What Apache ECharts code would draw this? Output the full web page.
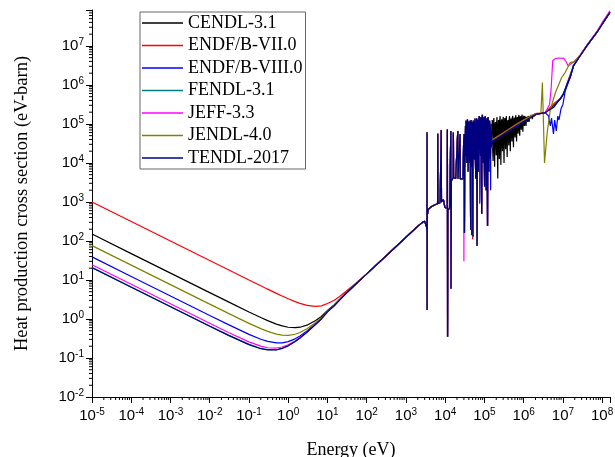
<!DOCTYPE html>
<html><head><meta charset="utf-8">
<script src="https://cdn.jsdelivr.net/npm/echarts@6/dist/echarts.min.js"></script>
<style>html,body{margin:0;padding:0;background:#fff}#c{width:615px;height:457px}</style>
</head><body><div id="c"></div>
<script>
// ---- data (Energy in eV, heat production cross section in eV-barn) ----
const names = ['CENDL-3.1', 'ENDF/B-VII.0', 'ENDF/B-VIII.0', 'FENDL-3.1', 'JEFF-3.3', 'JENDL-4.0', 'TENDL-2017'];
const colors = ['#000000', '#ff0000', '#0000ff', '#008080', '#ff00ff', '#808000', '#000080'];
const xTicks = [-5, -4, -3, -2, -1, 0, 1, 2, 3, 4, 5, 6, 7, 8];   // exponents of 10
const yTicks = [-2, -1, 0, 1, 2, 3, 4, 5, 6, 7];

const lowE = [1e-5, 1e-4, 1e-3, 1e-2, 0.03, 0.1, 0.2, 0.3, 0.5, 0.7, 1, 1.5, 2, 3, 5, 7, 10, 15, 20, 30, 50];
const cendlLow = [150, 47.4, 15, 4.74, 2.74, 1.51, 1.09, 0.907, 0.74, 0.665, 0.614, 0.597, 0.615, 0.694, 0.912, 1.16, 1.65, 2.32, 3.11, 4.64, 7.47];
const endf7Low = [1000, 316, 100, 31.6, 18.3, 10.0, 7.1, 5.81, 4.54, 3.88, 3.3, 2.79, 2.51, 2.24, 2.11, 2.17, 2.5, 3.02, 3.71, 5.13, 7.85];
const endf8Low = [39, 12.3, 3.89, 1.23, 0.715, 0.403, 0.303, 0.266, 0.244, 0.245, 0.263, 0.31, 0.367, 0.491, 0.755, 1.03, 1.54, 2.23, 3.03, 4.57, 7.42];
const fendlLow = [21, 6.6, 2.09, 0.66, 0.385, 0.223, 0.175, 0.163, 0.163, 0.177, 0.206, 0.264, 0.327, 0.46, 0.73, 1.0, 1.52, 2.22, 3.01, 4.56, 7.41];
const jeffLow = [24.5, 7.75, 2.45, 0.775, 0.452, 0.259, 0.201, 0.183, 0.18, 0.191, 0.218, 0.273, 0.335, 0.465, 0.735, 1.01, 1.52, 2.22, 3.02, 4.56, 7.41];
const jendlLow = [76, 24, 7.6, 2.4, 1.39, 0.773, 0.565, 0.48, 0.409, 0.385, 0.38, 0.406, 0.45, 0.559, 0.807, 1.07, 1.58, 2.26, 3.05, 4.59, 7.43];
const tendlLow = [20.6, 6.5, 2.06, 0.65, 0.38, 0.22, 0.173, 0.161, 0.162, 0.176, 0.205, 0.263, 0.326, 0.458, 0.73, 1.0, 1.52, 2.22, 3.01, 4.56, 7.41];

const riseE = [100, 300, 1000];
const riseSigma = [14.3, 40, 124];

// resolved-resonance region, common to all libraries [E, sigma]
const resonance = [
  [2000, 238], [2600, 295], [3000, 320], [3200, 300], [3350, 230], [3430, 180], [3450, 6.0e4], [3470, 1.7],
  [3500, 450], [3720, 650], [4500, 760], [5500, 850], [6400, 900], [6460, 5.6e4], [6550, 910], [7400, 950],
  [7900, 980], [7950, 7.0e4], [8050, 1000], [9000, 1150], [9900, 720], [1.13e4, 680], [1.14e4, 7.2e4],
  [1.15e4, 0.35], [1.17e4, 620], [1.3e4, 700], [1.39e4, 6.6e4], [1.41e4, 6.0], [1.44e4, 3500], [1.6e4, 4200],
  [1.62e4, 6.0e4], [1.64e4, 4150], [1.85e4, 4000], [2.09e4, 6.6e4], [2.12e4, 3950], [2.38e4, 3900],
  [2.4e4, 5.5e4], [2.43e4, 3900], [2.85e4, 3900], [2.95e4, 3.5e4], [3.05e4, 5.5e4], [3.1e4, 160],
  [3.15e4, 2.0e4], [3.2e4, 8000], [3.3e4, 9.0e4], [3.35e4, 1.5e4], [3.4e4, 1.2e5], [3.5e4, 3.0e4], [3.55e4, 1.0e4],
  [3.62e4, 9.0e4], [3.7e4, 1.3e5], [3.78e4, 2.0e4], [3.85e4, 6000], [3.92e4, 8.0e4], [4.0e4, 1.15e5],
  [4.1e4, 3.0e4], [4.2e4, 1.0e4], [4.28e4, 9.0e4], [4.35e4, 1.2e5], [4.45e4, 195], [4.52e4, 7.0e4],
  [4.6e4, 1.25e5], [4.7e4, 2.5e4], [4.8e4, 8000], [4.88e4, 9.0e4], [4.95e4, 1.1e5], [5.05e4, 130],
  [5.12e4, 6.0e4], [5.2e4, 1.2e5], [5.35e4, 3.0e4], [5.5e4, 1.2e4], [5.6e4, 1.0e5], [5.7e4, 1.35e5],
  [5.85e4, 2.0e4], [6.0e4, 4000], [6.15e4, 1.1e5], [6.3e4, 1.4e5], [6.5e4, 75], [6.65e4, 8.0e4],
  [6.8e4, 1.3e5], [6.95e4, 2.5e4], [7.1e4, 6000], [7.25e4, 1.2e5], [7.4e4, 1.6e5], [7.6e4, 3.0e4],
  [7.8e4, 1.5e4], [7.95e4, 1.2e5], [8.1e4, 1.5e5], [8.3e4, 2.0e4], [8.5e4, 500], [8.7e4, 1.3e5],
  [8.9e4, 1.7e5], [9.1e4, 3.0e4], [9.3e4, 1.0e4], [9.5e4, 1.2e5], [9.7e4, 1.5e5], [9.9e4, 2.0e4],
  [1.01e5, 2500], [1.035e5, 1.3e5], [1.06e5, 1.6e5], [1.085e5, 1.5e4], [1.11e5, 2000], [1.135e5, 1.1e5],
  [1.16e5, 1.4e5], [1.18e5, 1.0e4], [1.2e5, 240], [1.22e5, 1.2e5], [1.25e5, 1.5e5], [1.28e5, 2.0e4],
  [1.3e5, 6000], [1.33e5, 1.0e5], [1.35e5, 1.2e5], [1.38e5, 3.0e4], [1.42e5, 1.2e4], [1.45e5, 8.0e4],
  [1.48e5, 1.0e5], [1.55e5, 2.5e4]
];
// library-specific departures inside the resonance region
const endf7ResExtra = [[5.0e4, 110], [4.7e4, 300]];
const endf8ResExtra = [[4.7e4, 140], [1.44e5, 2000], [7.6e4, 900]];
const jeffResExtra = [[3.0e4, 30], [9500, 800]];

// fast region per library [E, sigma]
const cendlFast = [
  [1.58e5, 1.26e5], [1.62e5, 2.5e4], [1.66e5, 1.12e4], [1.70e5, 1.2e5], [1.74e5, 1.41e5], [1.78e5, 3.0e4],
  [1.82e5, 7.94e3], [1.86e5, 9.0e4], [1.91e5, 1.12e5], [1.95e5, 4.0e4], [2.0e5, 1.58e4], [2.05e5, 1.1e5],
  [2.09e5, 1.51e5], [2.14e5, 2.0e4], [2.19e5, 3.98e3], [2.24e5, 9.0e4], [2.29e5, 1.26e5], [2.35e5, 3.5e4],
  [2.40e5, 1.26e4], [2.45e5, 1.2e5], [2.51e5, 1.58e5], [2.57e5, 3.0e4], [2.63e5, 8.91e3], [2.69e5, 1.1e5],
  [2.75e5, 1.32e5], [2.82e5, 4.0e4], [2.88e5, 2.0e4], [2.95e5, 1.2e5], [3.02e5, 1.51e5], [3.09e5, 3.0e4],
  [3.16e5, 1.0e4], [3.24e5, 1.1e5], [3.31e5, 1.41e5], [3.39e5, 5.0e4], [3.47e5, 2.24e4], [3.55e5, 1.3e5],
  [3.63e5, 1.58e5], [3.72e5, 4.0e4], [3.80e5, 1.41e4], [3.89e5, 1.1e5], [3.98e5, 1.26e5], [4.07e5, 6.0e4],
  [4.17e5, 2.82e4], [4.27e5, 1.3e5], [4.37e5, 1.58e5], [4.47e5, 5.0e4], [4.57e5, 2.0e4], [4.68e5, 1.2e5],
  [4.79e5, 1.38e5], [4.9e5, 6.0e4], [5.01e5, 3.55e4], [5.13e5, 1.4e5], [5.25e5, 1.62e5], [5.37e5, 5.0e4],
  [5.50e5, 2.51e4], [5.62e5, 1.2e5], [5.75e5, 1.45e5], [5.89e5, 7.0e4], [6.03e5, 4.47e4], [6.17e5, 1.4e5],
  [6.31e5, 1.66e5], [6.46e5, 6.0e4], [6.61e5, 3.55e4], [6.76e5, 1.3e5], [6.92e5, 1.51e5], [7.08e5, 8.0e4],
  [7.24e5, 5.62e4], [7.41e5, 1.5e5], [7.59e5, 1.70e5], [7.76e5, 8.0e4], [7.94e5, 5.01e4], [8.13e5, 1.4e5],
  [8.32e5, 1.58e5], [8.51e5, 9.0e4], [8.71e5, 7.08e4], [8.91e5, 1.5e5], [9.12e5, 1.74e5], [9.33e5, 9.0e4],
  [9.55e5, 6.31e4], [9.77e5, 1.4e5], [1.0e6, 1.62e5], [1.02e6, 1.1e5], [1.05e6, 8.91e4], [1.07e6, 1.6e5],
  [1.10e6, 1.78e5], [1.12e6, 1.2e5], [1.15e6, 8.91e4], [1.17e6, 1.5e5], [1.20e6, 1.66e5], [1.23e6, 1.3e5],
  [1.26e6, 1.12e5], [1.29e6, 1.6e5], [1.32e6, 1.78e5], [1.35e6, 1.3e5], [1.38e6, 1.12e5], [1.41e6, 1.6e5],
  [1.45e6, 1.74e5], [1.48e6, 1.4e5], [1.51e6, 1.32e5], [1.55e6, 1.7e5], [1.58e6, 1.82e5], [1.62e6, 1.5e5],
  [1.66e6, 1.32e5], [1.70e6, 1.7e5], [1.74e6, 1.78e5], [1.78e6, 1.6e5], [1.82e6, 1.51e5], [1.86e6, 1.75e5],
  [1.91e6, 1.82e5], [1.95e6, 1.65e5], [2.0e6, 1.58e5], [2.07e6, 1.8e5], [2.14e6, 1.78e5], [2.8e6, 1.86e5],
  [3.55e6, 1.95e5], [5.75e6, 2.9e5], [9.0e6, 4.6e5], [1.05e7, 6.0e5], [1.26e7, 1.0e6], [1.55e7, 1.66e6],
  [1.86e7, 3.1e6]
];
const endf7Fast = [
  [1.62e5, 4.0e4], [2.51e5, 5.3e4], [3.98e5, 7.1e4], [6.31e5, 9.6e4], [1.0e6, 1.26e5], [1.58e6, 1.62e5],
  [2.14e6, 1.86e5], [2.82e6, 1.9e5], [3.55e6, 1.95e5], [5.75e6, 3.24e5], [9.3e6, 4.8e5], [1.15e7, 8.0e5],
  [1.55e7, 1.9e6], [1.86e7, 3.1e6]
];
const endf8Fast = [
  [1.62e5, 3.6e4], [2.51e5, 4.75e4], [3.98e5, 6.4e4], [6.31e5, 8.6e4], [1.0e6, 1.14e5], [1.58e6, 1.5e5],
  [2.14e6, 1.77e5], [2.82e6, 1.85e5], [3.55e6, 1.95e5], [4.27e6, 1.62e5], [4.79e6, 8.9e4], [5.13e6, 1.41e5],
  [5.75e6, 5.5e4], [6.17e6, 1.26e5], [6.76e6, 6.6e4], [7.41e6, 1.58e5], [7.94e6, 1.26e5], [8.91e6, 2.4e5],
  [1.0e7, 3.16e5], [1.15e7, 7.08e5], [1.55e7, 1.58e6], [1.86e7, 3.0e6]
];
const fendlFast = [
  [1.62e5, 3.7e4], [2.51e5, 4.9e4], [3.98e5, 6.6e4], [6.31e5, 8.9e4], [1.0e6, 1.18e5], [1.58e6, 1.55e5],
  [2.14e6, 1.8e5], [2.82e6, 1.88e5], [3.55e6, 1.97e5], [5.75e6, 2.7e5], [8.5e6, 4.5e5], [1.05e7, 6.2e5],
  [1.26e7, 1.03e6], [1.55e7, 1.72e6], [1.86e7, 3.2e6]
];
const jeffFast = [
  [1.62e5, 3.7e4], [2.51e5, 4.9e4], [3.98e5, 6.6e4], [6.31e5, 8.9e4], [1.0e6, 1.17e5], [1.58e6, 1.53e5],
  [2.14e6, 1.79e5], [2.82e6, 1.87e5], [3.55e6, 1.95e5], [4.57e6, 3.16e5], [5.0e6, 7.9e5], [5.5e6, 4.17e6],
  [6.31e6, 4.68e6], [7.94e6, 4.9e6], [1.05e7, 4.79e6], [1.2e7, 3.98e6], [1.35e7, 3.09e6], [1.55e7, 3.39e6],
  [1.86e7, 3.8e6]
];
const jendlFast = [
  [1.62e5, 4.0e4], [2.51e5, 5.2e4], [3.98e5, 7.0e4], [6.31e5, 9.5e4], [1.0e6, 1.25e5], [1.58e6, 1.6e5],
  [2.14e6, 1.84e5], [2.75e6, 1.9e5], [3.0e6, 1.15e6], [3.4e6, 1.0e4], [4.0e6, 6.3e4], [4.8e6, 2.4e5],
  [6.5e6, 6.5e5], [9.3e6, 1.55e6], [1.15e7, 2.1e6], [1.55e7, 3.8e6], [1.86e7, 3.9e6]
];
const tendlFast = [
  [1.62e5, 3.63e4], [2.51e5, 4.79e4], [3.98e5, 6.46e4], [6.31e5, 8.71e4], [1.0e6, 1.15e5], [1.58e6, 1.51e5],
  [2.14e6, 1.78e5], [2.82e6, 1.86e5], [3.55e6, 1.95e5], [5.75e6, 2.63e5], [8.5e6, 4.37e5], [1.05e7, 6.0e5],
  [1.26e7, 1.0e6], [1.55e7, 1.66e6], [1.86e7, 3.1e6]
];
const highTail = [[2.75e7, 5.6e6], [4.07e7, 1.0e7], [7.4e7, 2.24e7], [1.1e8, 4.2e7], [1.58e8, 7.2e7]];
const jeffTail = [[2.75e7, 5.9e6], [4.07e7, 1.05e7], [7.4e7, 2.4e7], [1.1e8, 4.6e7], [1.58e8, 7.9e7]];

const libs = [
  {low: cendlLow, extra: [], fast: cendlFast, tail: highTail},
  {low: endf7Low, extra: endf7ResExtra, fast: endf7Fast, tail: highTail},
  {low: endf8Low, extra: endf8ResExtra, fast: endf8Fast, tail: highTail},
  {low: fendlLow, extra: [], fast: fendlFast, tail: highTail},
  {low: jeffLow, extra: jeffResExtra, fast: jeffFast, tail: jeffTail},
  {low: jendlLow, extra: [], fast: jendlFast, tail: highTail},
  {low: tendlLow, extra: [], fast: tendlFast, tail: highTail}
];

// ---- build ----
const L = Math.log10;
function buildSeriesData(lib) {
  const pts = lowE.map((e, i) => [e, lib.low[i]])
    .concat(riseE.map((e, i) => [e, riseSigma[i]]))
    .concat(resonance.concat(lib.extra).sort((a, b) => a[0] - b[0]))
    .concat(lib.fast, lib.tail);
  return pts.map(p => [L(p[0]), L(p[1])]);
}
const X_MIN = -5, X_MAX = 8.2, Y_MIN = -2, Y_MAX = 7.92;
const minorX = [], minorY = [];
xTicks.forEach(n => { for (let k = 2; k <= 9; k++) { const v = n + L(k); if (v <= X_MAX) minorX.push([v, Y_MIN]); } });
yTicks.forEach(n => { for (let k = 2; k <= 9; k++) { const v = n + L(k); if (v <= Y_MAX) minorY.push([X_MIN, v]); } });

const serif = 'Liberation Serif';
const sans = 'Liberation Sans';
function expLabel(v) {
  const r = Math.round(v);
  if (Math.abs(v - r) > 1e-6) return '';
  return '{b|10}{s|' + r + '}';
}
const richLbl = {
  b: {fontSize: 15, fontFamily: sans, color: '#000', lineHeight: 18},
  s: {fontSize: 10, fontFamily: sans, color: '#000', lineHeight: 10, verticalAlign: 'top'}
};

const series = names.map((nm, i) => ({
  name: nm, type: 'line', data: buildSeriesData(libs[i]), showSymbol: false, symbol: 'none',
  lineStyle: {color: colors[i], width: 1.2}, itemStyle: {color: colors[i]}, z: 2 + i, silent: true
}));
series.push({
  type: 'custom', coordinateSystem: 'cartesian2d', data: minorX, clip: false, silent: true, z: 20,
  renderItem: (params, api) => {
    const p = api.coord([api.value(0), api.value(1)]);
    return {type: 'line', shape: {x1: p[0], y1: p[1], x2: p[0], y2: p[1] + 3}, style: {stroke: '#000', lineWidth: 1}};
  }
});
series.push({
  type: 'custom', coordinateSystem: 'cartesian2d', data: minorY, clip: false, silent: true, z: 20,
  renderItem: (params, api) => {
    const p = api.coord([api.value(0), api.value(1)]);
    return {type: 'line', shape: {x1: p[0] - 3, y1: p[1], x2: p[0], y2: p[1]}, style: {stroke: '#000', lineWidth: 1}};
  }
});

const chart = echarts.init(document.getElementById('c'), null, {renderer: 'canvas'});
chart.setOption({
  animation: false,
  backgroundColor: '#fff',
  grid: {left: 92, right: 5, top: 10, bottom: 60, containLabel: false, outerBoundsMode: 'none'},
  legend: {
    data: names, orient: 'vertical', left: 140, top: 12, padding: [1, 3, 1, 2], itemGap: 2.5,
    icon: 'rect', itemWidth: 41, itemHeight: 1.5, borderColor: '#666', borderWidth: 1, backgroundColor: '#fff',
    textStyle: {fontFamily: serif, fontSize: 18, lineHeight: 20, color: '#000'}, selectedMode: false
  },
  xAxis: {
    type: 'value', min: X_MIN, max: X_MAX, interval: 1,
    name: 'Energy (eV)', nameLocation: 'middle', nameGap: 44,
    nameTextStyle: {fontFamily: serif, fontSize: 18, color: '#000'},
    axisLine: {onZero: false, lineStyle: {color: '#000', width: 1}},
    axisTick: {inside: false, length: 6, lineStyle: {color: '#000'}},
    axisLabel: {formatter: expLabel, rich: richLbl, margin: 10, showMaxLabel: true},
    splitLine: {show: false}
  },
  yAxis: {
    type: 'value', min: Y_MIN, max: Y_MAX, interval: 1,
    name: 'Heat production cross section (eV-barn)', nameLocation: 'middle', nameGap: 60,
    nameTextStyle: {fontFamily: serif, fontSize: 18.5, color: '#000'},
    axisLine: {show: true, onZero: false, lineStyle: {color: '#000', width: 1}},
    axisTick: {show: true, inside: false, length: 6, lineStyle: {color: '#000'}},
    axisLabel: {formatter: expLabel, rich: richLbl, margin: 8},
    splitLine: {show: false}
  },
  series: series
});
</script></body></html>
